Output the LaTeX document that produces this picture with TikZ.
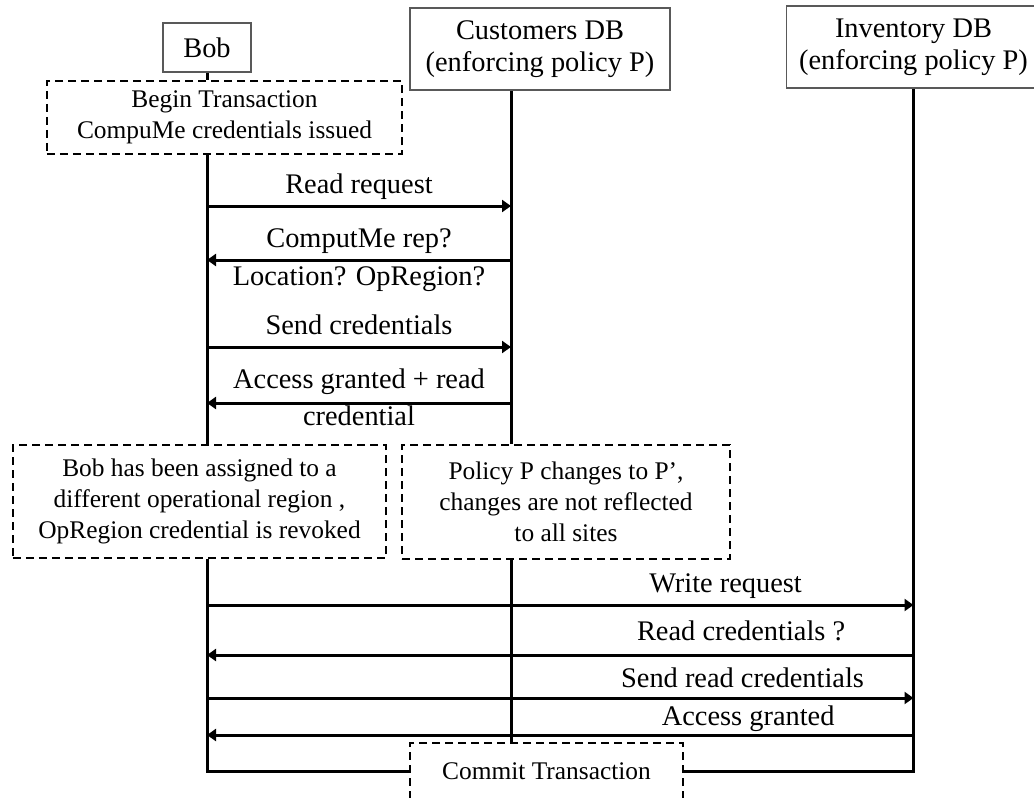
\documentclass[tikz,border=0pt]{standalone}
\usepackage{fontspec}
\setmainfont{Liberation Serif}
\usetikzlibrary{arrows.meta, positioning}

\begin{document}
\begin{tikzpicture}[x=1bp, y=1bp, node distance=70bp,
	actor/.style={draw=black!65, line width=1.8bp, fill=white, align=center, inner sep=0pt, font=\fontsize{28.5}{32}\selectfont},
	note/.style={draw, line width=2bp, dash pattern=on 8bp off 5bp, align=center, inner sep=0pt, font=\fontsize{25.5}{31}\selectfont},
	life/.style={line width=3bp},
	msg/.style={line width=3bp, -{Triangle[length=9bp, width=12bp]}},
	lbl/.style={inner sep=0pt, text height=19bp, text depth=6bp, font=\fontsize{28.5}{32}\selectfont}]
	\useasboundingbox (0,0) rectangle (1034,-798);
	
	\node[actor, minimum width=88bp, minimum height=49bp] (bob) at (207,-47.5) {Bob};
	
	\node[actor, minimum width=260bp, minimum height=82bp] (cust) at (540,-49) {Customers DB\\(enforcing policy P)};
	
	\node[actor, minimum width=254bp, minimum height=82bp] (inv) at (913.5,-47) {Inventory DB\\(enforcing policy P)};
	
	\node[note, minimum width=355bp, minimum height=73bp, below of=bob, xshift=17.5bp] (begin) {Begin Transaction\\CompuMe credentials issued};
	
	\node[note, minimum width=373bp, minimum height=113bp] (bobnote) at (199.5,-501.5) {Bob has been assigned to a\\different operational region ,\\OpRegion credential is revoked};
	
	\node[note, minimum width=328bp, minimum height=114bp] (polnote) at (566,-502) {Policy P changes to P’,\\changes are not reflected\\to all sites};
	
	\node[note, minimum width=273bp, minimum height=56bp] (commit) at (546.5,-771) {Commit Transaction};
	
	% lifelines
	\coordinate (custline) at ([xshift=-29bp]cust.south);
	\draw[life] (bob.south) -- (bob.south |- begin.north);
	\draw[life] (begin.south -| bob) -- (bobnote.north -| bob);
	\draw[life] (bobnote.south -| bob) |- (commit.west);
	\draw[life] (custline) -- (custline |- polnote.north);
	\draw[life] (polnote.south -| custline) -- (commit.north -| custline);
	\draw[life] (inv.south) |- (commit.east);
	
	% message rows
	\coordinate (r1) at (0,-206);
	\coordinate (r2) at (0,-260);
	\coordinate (r3) at (0,-347);
	\coordinate (r4) at (0,-403);
	\coordinate (r5) at (0,-605);
	\coordinate (r6) at (0,-655);
	\coordinate (r7) at (0,-698);
	\coordinate (r8) at (0,-735);
	
	\draw[msg] (bob |- r1) -- node[lbl, above=5bp] {Read request} (custline |- r1);
	
	\draw[msg] (custline |- r2) -- node[lbl, above=5bp] {ComputMe rep?} node[lbl, below=5bp] {Location? OpRegion?} (bob |- r2);
	
	\draw[msg] (bob |- r3) -- node[lbl, above=5bp] {Send credentials} (custline |- r3);
	
	\draw[msg] (custline |- r4) -- node[lbl, above=7bp] {Access granted + read} node[lbl, below=2bp] {credential} (bob |- r4);
	
	\draw[msg] (bob |- r5) -- node[lbl, above=5bp, pos=0.734] {Write request} (inv |- r5);
	
	\draw[msg] (inv |- r6) -- node[lbl, above=7bp, pos=0.244] {Read credentials ?} (bob |- r6);
	
	\draw[msg] (bob |- r7) -- node[lbl, above=3bp, pos=0.758] {Send read credentials} (inv |- r7);
	
	\draw[msg] (inv |- r8) -- node[lbl, above=2bp, pos=0.234] {Access granted} (bob |- r8);
\end{tikzpicture}
\end{document}
